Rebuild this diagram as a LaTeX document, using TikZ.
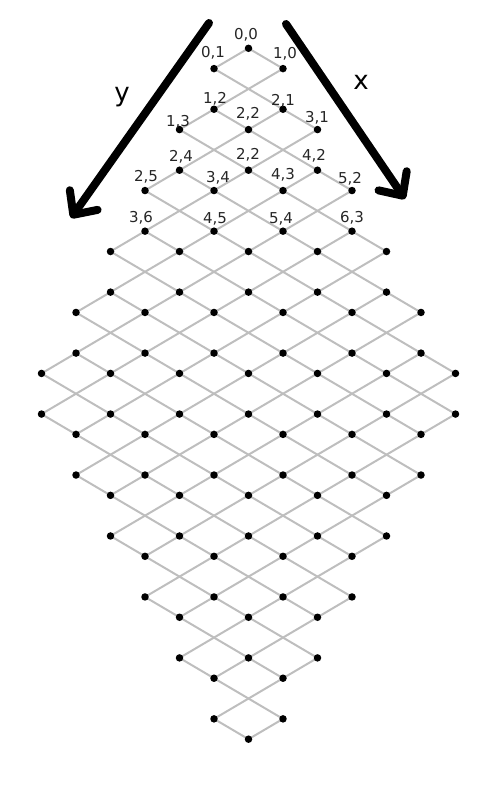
\documentclass[tikz,border=0pt]{standalone}
\usepackage{fontspec}
\setmainfont{DejaVu Sans}
\usetikzlibrary{arrows.meta}
\pgfdeclarelayer{bg}
\pgfsetlayers{bg,main}
\definecolor{gridgray}{RGB}{190,190,190}
\begin{document}
\begin{tikzpicture}[x=1pt,y=-1pt,
  dotnode/.style={circle,fill=black,inner sep=0pt,minimum size=7.5pt},
  gridline/.style={draw=gridgray,line width=2pt},
  lbl/.style={inner sep=0pt,font=\fontsize{15}{17}\selectfont,text=black!85},
  axislbl/.style={inner sep=0pt,font=\fontsize{26}{30}\selectfont},
  bigarrow/.style={line width=8pt,line cap=round,
    -{Straight Barb[length=18pt,width=34pt,line cap=round,line join=round]}}
]
\useasboundingbox (0,0) rectangle (503,789);
% dots of the lattice: level / number of dots
\foreach \L/\n in {0/1,1/2,3/2,4/3,6/3,7/4,9/4,10/5,12/5,13/6,15/6,16/7,18/7,
                   19/6,21/6,22/5,24/5,25/4,27/4,28/3,30/3,31/2,33/2,34/1}{
  \foreach \i in {1,...,\n}{
    \pgfmathtruncatemacro\k{-(\n-1)+2*(\i-1)}
    \pgfmathtruncatemacro\a{(\L+\k)/2}
    \pgfmathtruncatemacro\b{(\L-\k)/2}
    \node[dotnode] (d-\a-\b) at ({248.5+34.5*\k},{48.3+20.32*\L}) {};
  }
}
% grid lines
\begin{pgfonlayer}{bg}
\foreach \c/\lo/\hi in {0/0/1,1/0/3,2/1/5,3/1/7,4/2/9,5/2/11,6/3/12,7/3/12,
                        8/4/13,9/4/13,10/5/14,11/5/14,12/6/15,13/8/15,
                        14/10/16,15/12/16,16/14/17,17/16/17}{
  \draw[gridline] (d-\c-\lo.center) -- (d-\c-\hi.center);
  \draw[gridline] (d-\lo-\c.center) -- (d-\hi-\c.center);
}
\end{pgfonlayer}
% labels
\node[lbl] (l00) at (246,35) {0,0};
\node[lbl] (l01) at (213,53) {0,1};
\node[lbl] (l10) at (285,54) {1,0};
\node[lbl] (l12) at (215,99) {1,2};
\node[lbl] (l21) at (283,101) {2,1};
\node[lbl] (l13) at (178,122) {1,3};
\node[lbl] (l22) at (248,114) {2,2};
\node[lbl] (l31) at (317,118) {3,1};
\node[lbl] (l24) at (181,157) {2,4};
\node[lbl] (l33) at (248,155) {2,2};
\node[lbl] (l42) at (314,156) {4,2};
\node[lbl] (l25) at (146,177) {2,5};
\node[lbl] (l34) at (218,178) {3,4};
\node[lbl] (l43) at (283,175) {4,3};
\node[lbl] (l52) at (350,179) {5,2};
\node[lbl] (l36) at (141,218) {3,6};
\node[lbl] (l45) at (215,219) {4,5};
\node[lbl] (l54) at (281,219) {5,4};
\node[lbl] (l63) at (352,218) {6,3};
% axes
\node[axislbl] (ylab) at (122,97) {y};
\node[axislbl] (xlab) at (361,82) {x};
\coordinate (ystart) at (209,23);
\coordinate (yend) at (71,218);
\coordinate (xstart) at (286,24);
\coordinate (xend) at (405,199);
\draw[bigarrow] (ystart) -- (yend);
\draw[bigarrow] (xstart) -- (xend);
\end{tikzpicture}
\end{document}
